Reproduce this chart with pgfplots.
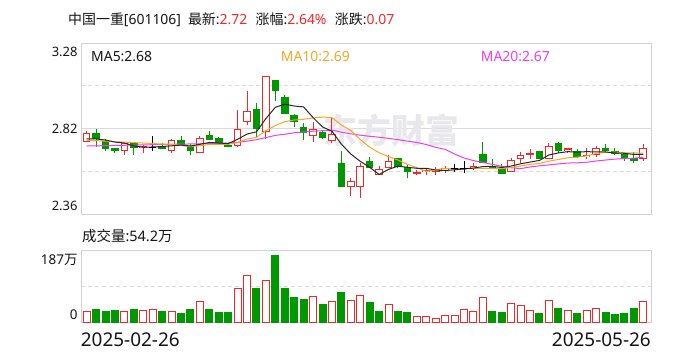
\documentclass[border=0pt]{standalone}
\usepackage{fontspec}
\setmainfont{Noto Sans}
\newfontfamily\cjk{Noto Sans CJK SC}
\usepackage{pgfplots}
\usepackage{pgfplotstable}
\pgfplotsset{compat=1.18}
\definecolor{cred}{RGB}{240,40,40}
\definecolor{cgreen}{RGB}{0,152,0}
\definecolor{cframe}{RGB}{208,208,216}
\definecolor{cgrid}{RGB}{218,218,222}
\definecolor{cma5}{RGB}{40,40,40}
\definecolor{cma10}{RGB}{245,166,35}
\definecolor{cma20}{RGB}{238,60,238}
\definecolor{ctext}{RGB}{20,20,20}
\definecolor{cwm}{RGB}{232,232,236}
% up candles (red, hollow)
\pgfplotstableread{
x O H L C
0 2.754 2.809 2.754 2.797
4 2.706 2.745 2.681 2.740
6 2.722 2.735 2.694 2.729
9 2.706 2.768 2.694 2.761
12 2.694 2.783 2.690 2.768
16 2.733 2.922 2.722 2.818
17 2.858 3.025 2.843 2.911
19 2.804 3.103 2.768 3.103
24 2.786 2.859 2.752 2.818
26 2.756 2.886 2.743 2.790
28 2.512 2.560 2.464 2.538
29 2.512 2.640 2.453 2.622
31 2.579 2.622 2.574 2.601
32 2.615 2.681 2.610 2.647
35 2.583 2.601 2.572 2.588
36 2.592 2.610 2.572 2.599
37 2.592 2.619 2.574 2.601
38 2.601 2.622 2.587 2.610
41 2.610 2.636 2.601 2.622
45 2.592 2.663 2.592 2.649
46 2.661 2.699 2.636 2.679
47 2.683 2.713 2.660 2.688
49 2.661 2.747 2.661 2.729
51 2.706 2.718 2.690 2.713
53 2.672 2.717 2.660 2.679
54 2.685 2.729 2.672 2.717
59 2.663 2.740 2.651 2.717
}\redtab
% down candles (green, filled)
\pgfplotstableread{
x O H L C
1 2.797 2.818 2.722 2.768
2 2.752 2.767 2.704 2.715
3 2.715 2.720 2.694 2.706
5 2.740 2.747 2.681 2.722
8 2.729 2.747 2.711 2.718
10 2.761 2.783 2.731 2.738
11 2.726 2.738 2.681 2.706
13 2.783 2.809 2.761 2.765
14 2.770 2.779 2.743 2.747
15 2.733 2.743 2.722 2.726
18 2.922 2.957 2.779 2.824
20 3.082 3.082 2.972 3.025
21 2.991 3.002 2.900 2.904
22 2.890 2.900 2.829 2.858
23 2.829 2.850 2.761 2.800
25 2.800 2.815 2.765 2.774
27 2.636 2.702 2.512 2.512
30 2.647 2.670 2.610 2.613
33 2.660 2.665 2.610 2.622
34 2.615 2.628 2.556 2.592
42 2.681 2.752 2.636 2.642
43 2.622 2.660 2.610 2.615
44 2.610 2.631 2.583 2.583
48 2.702 2.702 2.661 2.661
50 2.740 2.752 2.690 2.704
52 2.702 2.713 2.663 2.672
55 2.718 2.742 2.697 2.704
56 2.702 2.717 2.681 2.690
57 2.681 2.690 2.651 2.660
58 2.663 2.699 2.640 2.651
}\greentab
% doji candles (black)
\pgfplotstableread{
x O H L C
7 2.722 2.783 2.704 2.722
39 2.610 2.633 2.592 2.610
40 2.610 2.649 2.583 2.610
}\dojitab
\begin{document}
\begin{tikzpicture}
\path (0,0) rectangle (688bp,360bp);
\begin{axis}[
  at={(81bp,145bp)}, anchor=south west, scale only axis,
  width=570bp, height=172bp,
  xmin=-0.6, xmax=59.82, ymin=2.36, ymax=3.28,
  axis line style={cframe, line width=1bp},
  xtick=\empty, ytick={2.82}, yticklabels={},
  ymajorgrids, grid style={cgrid, line width=1bp},
  extra y ticks={2.59,3.05}, extra y tick labels={},
  extra y tick style={grid style={cgrid, line width=1bp, dash pattern=on 4bp off 3bp}},
  major tick length=0pt,
]
\node[text=cwm, font=\cjk\bfseries\fontsize{34}{34}\selectfont] at (axis cs:32.3,2.815) {东方财富};
% wicks
\addplot[draw=none, mark=none, forget plot, error bars/.cd, y dir=plus, y explicit, error mark=none,
  error bar style={draw=cred, line width=1bp}]
  table[x=x, y=L, y error expr=\thisrow{H}-\thisrow{L}] {\redtab};
\addplot[draw=none, mark=none, forget plot, error bars/.cd, y dir=plus, y explicit, error mark=none,
  error bar style={draw=cgreen, line width=1bp}]
  table[x=x, y=L, y error expr=\thisrow{H}-\thisrow{L}] {\greentab};
\addplot[draw=none, mark=none, forget plot, error bars/.cd, y dir=plus, y explicit, error mark=none,
  error bar style={draw=black, line width=1bp}]
  table[x=x, y=L, y error expr=\thisrow{H}-\thisrow{L}] {\dojitab};
% red bodies: outer red, inner white
\addplot[draw=none, mark=none, forget plot, error bars/.cd, y dir=plus, y explicit, error mark=none,
  error bar style={draw=cred, line width=7.6bp}]
  table[x=x, y expr={min(\thisrow{O},\thisrow{C})-0.0027}, y error expr={abs(\thisrow{C}-\thisrow{O})+0.0054}] {\redtab};
\addplot[draw=none, mark=none, forget plot, error bars/.cd, y dir=plus, y explicit, error mark=none,
  error bar style={draw=white, line width=5.6bp}]
  table[x=x, y expr={min(\thisrow{O},\thisrow{C})+0.0027}, y error expr={max(abs(\thisrow{C}-\thisrow{O})-0.0054,0)}] {\redtab};
% green bodies
\addplot[draw=none, mark=none, forget plot, error bars/.cd, y dir=plus, y explicit, error mark=none,
  error bar style={draw=cgreen, line width=7.6bp}]
  table[x=x, y expr={min(\thisrow{O},\thisrow{C})-0.0027}, y error expr={abs(\thisrow{C}-\thisrow{O})+0.0054}] {\greentab};
% doji bodies
\addplot[only marks, mark=-, mark size=3.8bp, mark options={draw=black, line width=1bp}, forget plot]
  table[x=x, y=C] {\dojitab};
% MA20
\addplot[cma20, line width=1bp, mark=none] coordinates {
(0,2.729)(1,2.730)(2,2.731)(3,2.732)(4,2.733)(5,2.734)(6,2.735)(7,2.736)(8,2.737)(9,2.738)
(10,2.739)(11,2.740)(12,2.741)(13,2.742)(14,2.743)(15,2.745)(16,2.749)(17,2.755)(18,2.763)(19,2.774)
(20,2.786)(21,2.792)(22,2.800)(23,2.804)(24,2.808)(25,2.811)(26,2.814)(27,2.803)(28,2.794)(29,2.787)
(30,2.781)(31,2.776)(32,2.770)(33,2.763)(34,2.755)(35,2.748)(36,2.737)(37,2.722)(38,2.711)(39,2.686)
(40,2.665)(41,2.651)(42,2.641)(43,2.631)(44,2.620)(45,2.613)(46,2.608)(47,2.617)(48,2.623)(49,2.628)
(50,2.633)(51,2.638)(52,2.639)(53,2.642)(54,2.649)(55,2.654)(56,2.659)(57,2.662)(58,2.664)(59,2.669)};
% MA10
\addplot[cma10, line width=1bp, mark=none] coordinates {
(0,2.760)(1,2.758)(2,2.755)(3,2.752)(4,2.750)(5,2.747)(6,2.745)(7,2.742)(8,2.740)(9,2.738)
(10,2.732)(11,2.726)(12,2.731)(13,2.737)(14,2.738)(15,2.738)(16,2.747)(17,2.766)(18,2.776)(19,2.811)
(20,2.839)(21,2.859)(22,2.868)(23,2.872)(24,2.879)(25,2.884)(26,2.881)(27,2.841)(28,2.812)(29,2.764)
(30,2.723)(31,2.693)(32,2.672)(33,2.654)(34,2.631)(35,2.613)(36,2.593)(37,2.602)(38,2.610)(39,2.608)
(40,2.608)(41,2.610)(42,2.610)(43,2.609)(44,2.608)(45,2.614)(46,2.622)(47,2.631)(48,2.636)(49,2.648)
(50,2.657)(51,2.666)(52,2.669)(53,2.676)(54,2.689)(55,2.695)(56,2.696)(57,2.693)(58,2.692)(59,2.691)};
% MA5
\addplot[cma5, line width=1bp, mark=none] coordinates {
(0,2.767)(1,2.767)(2,2.761)(3,2.750)(4,2.745)(5,2.730)(6,2.722)(7,2.724)(8,2.726)(9,2.730)
(10,2.734)(11,2.729)(12,2.738)(13,2.748)(14,2.745)(15,2.742)(16,2.765)(17,2.793)(18,2.805)(19,2.876)
(20,2.936)(21,2.953)(22,2.943)(23,2.938)(24,2.881)(25,2.831)(26,2.808)(27,2.739)(28,2.686)(29,2.647)
(30,2.615)(31,2.577)(32,2.604)(33,2.621)(34,2.615)(35,2.610)(36,2.610)(37,2.600)(38,2.598)(39,2.602)
(40,2.606)(41,2.611)(42,2.619)(43,2.620)(44,2.614)(45,2.622)(46,2.634)(47,2.643)(48,2.652)(49,2.681)
(50,2.692)(51,2.699)(52,2.696)(53,2.699)(54,2.697)(55,2.697)(56,2.692)(57,2.690)(58,2.684)(59,2.684)};
\end{axis}
\begin{axis}[
  at={(81bp,37.3bp)}, anchor=south west, scale only axis,
  width=570bp, height=71.7bp,
  xmin=-0.6, xmax=59.82, ymin=0, ymax=187,
  axis line style={cframe, line width=1bp},
  xtick=\empty, ytick={93.5}, yticklabels={},
  ymajorgrids, grid style={cgrid, line width=1bp, dash pattern=on 4bp off 3bp},
  major tick length=0pt,
]
\addplot[ybar, bar width=7.0bp, bar shift=0pt, draw=cred, fill=white, line width=1bp] coordinates {
(0,30.5)(4,30.5)(6,32.3)(7,34.8)(9,30.5)(12,54.0)(16,89.6)(17,121.8)(19,108.8)(24,69.6)(26,54.0)(28,59.2)(29,72.2)
(32,46.2)(35,16.6)(36,16.6)(37,11.4)(38,19.2)(39,19.2)(40,35.7)(41,30.5)(42,66.2)(45,48.8)(46,43.6)(47,33.1)
(49,56.6)(51,33.1)(53,33.1)(54,38.3)(59,54.2)};
\addplot[ybar, bar width=7.0bp, bar shift=0pt, draw=cgreen, fill=cgreen, line width=1bp] coordinates {
(1,35.7)(2,30.5)(3,33.1)(5,35.7)(8,28.8)(10,22.7)(11,35.7)(13,35.7)(14,26.2)(15,26.2)(18,87.9)(20,174.8)(21,90.5)
(22,67.0)(23,61.8)(25,46.2)(27,78.3)(30,52.2)(31,28.8)(33,28.8)(34,26.2)(43,30.5)(44,27.9)(48,22.7)(50,38.3)
(52,22.7)(55,26.2)(56,20.1)(57,22.7)(58,38.3)};
\end{axis}
% texts
\node[anchor=west, text=ctext, font=\fontsize{14}{16}\selectfont, inner sep=0pt] at (68bp,340bp)
 {{\cjk 中国一重}[601106]\hspace{0.5em}{\cjk 最新}:\textcolor{cred}{2.72}\hspace{0.6em}{\cjk 涨幅}:\textcolor{cred}{2.64\%}\hspace{0.6em}{\cjk 涨跌}:\textcolor{cred}{0.07}};
\node[anchor=west, text=ctext, font=\fontsize{14}{16}\selectfont, inner sep=0pt] at (91bp,303.3bp) {MA5:2.68};
\node[anchor=west, text=cma10, font=\fontsize{14}{16}\selectfont, inner sep=0pt] at (280.7bp,303.3bp) {MA10:2.69};
\node[anchor=west, text=cma20, font=\fontsize{14}{16}\selectfont, inner sep=0pt] at (480.7bp,303.3bp) {MA20:2.67};
\node[anchor=east, text=ctext, font=\fontsize{13}{15}\selectfont, inner sep=0pt] at (77.7bp,308bp) {3.28};
\node[anchor=east, text=ctext, font=\fontsize{13}{15}\selectfont, inner sep=0pt] at (77.7bp,231bp) {2.82};
\node[anchor=east, text=ctext, font=\fontsize{13}{15}\selectfont, inner sep=0pt] at (77.7bp,154bp) {2.36};
\node[anchor=west, text=ctext, font=\fontsize{14.5}{16}\selectfont, inner sep=0pt] at (82bp,124bp) {{\cjk 成交量}:54.2{\cjk 万}};
\node[anchor=east, text=ctext, font=\fontsize{13.5}{15}\selectfont, inner sep=0pt] at (77.7bp,100bp) {187{\cjk 万}};
\node[anchor=east, text=ctext, font=\fontsize{13.5}{15}\selectfont, inner sep=0pt] at (77.7bp,45bp) {0};
\node[anchor=west, text=ctext, font=\fontsize{19}{21}\selectfont, inner sep=0pt] at (80.7bp,20bp) {2025-02-26};
\node[anchor=east, text=ctext, font=\fontsize{19}{21}\selectfont, inner sep=0pt] at (651bp,20bp) {2025-05-26};
\end{tikzpicture}
\end{document}
